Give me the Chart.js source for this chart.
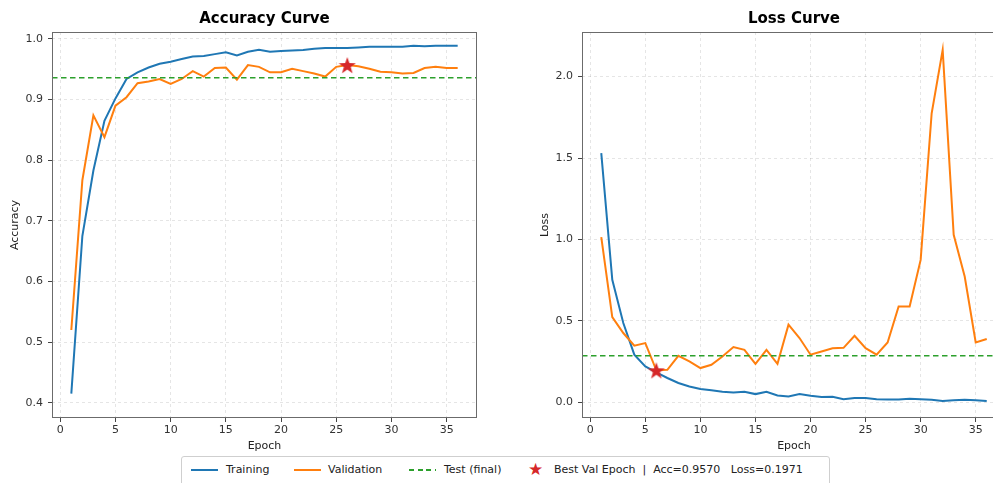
<!DOCTYPE html>
<html>
<head>
<meta charset="utf-8">
<script src="https://cdn.jsdelivr.net/npm/chart.js@4.4.1/dist/chart.umd.min.js"></script>
<style>
html, body { margin: 0; padding: 0; overflow: hidden; background: #fff; width: 993px; height: 483px; }
body { position: relative; font-family: "DejaVu Sans", sans-serif; }
#acc-chart { position: absolute; left: 0; top: 0; }
#loss-chart { position: absolute; left: 530px; top: 0; }
.legend { position: absolute; left: 181px; top: 456px; width: 649px; height: 34px; border: 1px solid #cfcfcf; border-radius: 3px; box-sizing: border-box; background: #fff; }
.legend span { position: absolute; top: 6px; font-size: 11px; line-height: 14px; color: #222; white-space: pre; }
.legend .sw { position: absolute; top: 12px; width: 27px; height: 2px; }
.legend .star { top: 3px; font-size: 17px; line-height: 18px; color: #d62728; }
</style>
</head>
<body>
<canvas id="acc-chart" width="529" height="458"></canvas>
<canvas id="loss-chart" width="528" height="458"></canvas>

<div class="legend">
  <div class="sw" style="left:9px; background:#1f77b4;"></div>
  <span style="left:44px;">Training</span>
  <div class="sw" style="left:112px; background:#ff7f0e;"></div>
  <span style="left:146px;">Validation</span>
  <div class="sw" style="left:227px; height:1.5px; background:repeating-linear-gradient(to right, #2ca02c 0 5px, transparent 5px 8.5px);"></div>
  <span style="left:262px;">Test (final)</span>
  <span class="star" style="left:346px;">★</span>
  <span style="left:372px;">Best Val Epoch  |  Acc=0.9570   Loss=0.1971</span>
</div>

<script>
// ---------------- data ----------------
const epochs = [1, 2, 3, 4, 5, 6, 7, 8, 9, 10, 11, 12, 13, 14, 15, 16, 17, 18,
                19, 20, 21, 22, 23, 24, 25, 26, 27, 28, 29, 30, 31, 32, 33, 34, 35, 36];

const trainAcc = [0.415, 0.675, 0.783, 0.865, 0.902, 0.934, 0.945, 0.953, 0.959, 0.9625, 0.967, 0.971,
                  0.972, 0.975, 0.978, 0.973, 0.979, 0.982, 0.979, 0.980, 0.981, 0.982, 0.984, 0.985,
                  0.985, 0.985, 0.986, 0.987, 0.987, 0.987, 0.987, 0.989, 0.988, 0.989, 0.989, 0.989];
const valAcc = [0.52, 0.767, 0.874, 0.838, 0.89, 0.904, 0.927, 0.930, 0.934, 0.926, 0.934, 0.947,
                0.938, 0.952, 0.953, 0.933, 0.957, 0.954, 0.945, 0.945, 0.951, 0.947, 0.943, 0.938,
                0.954, 0.957, 0.955, 0.951, 0.946, 0.945, 0.943, 0.944, 0.952, 0.954, 0.952, 0.952];

const trainLoss = [1.53, 0.753, 0.487, 0.293, 0.221, 0.185, 0.15, 0.119, 0.098, 0.082, 0.074, 0.065,
                   0.061, 0.065, 0.051, 0.065, 0.043, 0.037, 0.051, 0.041, 0.033, 0.035, 0.020, 0.027,
                   0.027, 0.020, 0.018, 0.018, 0.022, 0.020, 0.016, 0.008, 0.014, 0.016, 0.014, 0.008];
const valLoss = [1.015, 0.524, 0.426, 0.348, 0.364, 0.197, 0.20, 0.286, 0.252, 0.211, 0.231, 0.282,
                 0.34, 0.323, 0.237, 0.323, 0.237, 0.477, 0.395, 0.293, 0.313, 0.333, 0.335, 0.409,
                 0.333, 0.293, 0.368, 0.589, 0.589, 0.875, 1.775, 2.164, 1.029, 0.773, 0.368, 0.389];

const testAcc = 0.936;
const testLoss = 0.286;

const bestAccEpoch = 26;
const bestAcc = 0.957;
const bestLossEpoch = 6;
const bestLoss = 0.1971;

const epochTicks = [0, 5, 10, 15, 20, 25, 30, 35];
const accTicks = [0.4, 0.5, 0.6, 0.7, 0.8, 0.9, 1.0];
const lossTicks = [0.0, 0.5, 1.0, 1.5, 2.0];

// ---------------- helpers ----------------
const FONT = '"DejaVu Sans", sans-serif';
const X_MIN = -0.75, X_MAX = 37.75;

function toPoints(values) {
    return epochs.map((e, i) => ({ x: e, y: values[i] }));
}

// filled 5 point star, like matplotlib's '*' marker
function starImage(r, color) {
    const c = document.createElement('canvas');
    c.width = c.height = Math.ceil(r * 2);
    const g = c.getContext('2d');
    g.fillStyle = color;
    g.beginPath();
    for (let i = 0; i < 10; i++) {
        const rad = i % 2 ? r * 0.4 : r;
        const a = -Math.PI / 2 + i * Math.PI / 5;
        const px = r + rad * Math.cos(a), py = r + 1 + rad * Math.sin(a);
        if (i === 0) g.moveTo(px, py); else g.lineTo(px, py);
    }
    g.closePath();
    g.fill();
    return c;
}
const star = starImage(9, '#d62728');

// box around the plot area (matplotlib spines)
const frame = {
    id: 'frame',
    afterDatasetsDraw(chart) {
        const { ctx, chartArea: a } = chart;
        ctx.save();
        ctx.strokeStyle = '#6b6b6b';
        ctx.lineWidth = 1;
        ctx.strokeRect(Math.round(a.left) + 0.5, Math.round(a.top) + 0.5,
                       Math.round(a.right - a.left) - 1, Math.round(a.bottom - a.top) - 1);
        ctx.restore();
    }
};

function curveChart(canvasId, o) {
    const tickFont = { family: FONT, size: 11 };
    const gridCommon = {
        color: 'rgba(0,0,0,0.10)',
        lineWidth: 1,
        drawTicks: true,
        tickLength: 4,
        tickColor: '#444',
        tickBorderDash: []
    };

    const config = {
        type: 'line',
        data: {
            datasets: [
                {
                    label: 'Best',
                    data: [{ x: o.bestEpoch, y: o.bestValue }],
                    showLine: false,
                    pointStyle: star,
                    pointRadius: 9,
                    order: 0
                },
                {
                    label: 'Test (final)',
                    data: [{ x: X_MIN, y: o.test }, { x: X_MAX, y: o.test }],
                    borderColor: '#2ca02c',
                    borderWidth: 1.6,
                    borderDash: [5.5, 3.5],
                    pointRadius: 0,
                    order: 1
                },
                {
                    label: 'Validation',
                    data: toPoints(o.val),
                    borderColor: '#ff7f0e',
                    borderWidth: 2,
                    pointRadius: 0,
                    tension: 0,
                    order: 2
                },
                {
                    label: 'Training',
                    data: toPoints(o.train),
                    borderColor: '#1f77b4',
                    borderWidth: 2,
                    pointRadius: 0,
                    tension: 0,
                    order: 3
                }
            ]
        },
        options: {
            responsive: false,
            animation: false,
            devicePixelRatio: 1,
            layout: { padding: 0 },
            plugins: {
                legend: { display: false },
                tooltip: { enabled: false },
                title: {
                    display: true,
                    text: o.title,
                    color: '#000',
                    font: { family: FONT, size: 15, weight: 'bold' },
                    padding: { top: 10, bottom: 4 }
                }
            },
            scales: {
                x: {
                    type: 'linear',
                    min: X_MIN,
                    max: X_MAX,
                    afterBuildTicks: s => { s.ticks = epochTicks.map(v => ({ value: v })); },
                    afterFit: s => { s.height = 40; },
                    ticks: { font: tickFont, color: '#333', padding: 2, maxRotation: 0, callback: v => v },
                    grid: gridCommon,
                    border: { display: false, dash: [3, 3] },
                    title: { display: true, text: 'Epoch', color: '#222', font: { family: FONT, size: 11 }, padding: { top: 0, bottom: 5 } }
                },
                y: {
                    type: 'linear',
                    min: o.yMin,
                    max: o.yMax,
                    afterBuildTicks: s => { s.ticks = o.yTicks.map(v => ({ value: v })); },
                    afterFit: s => { s.width = 52; },
                    ticks: { font: tickFont, color: '#333', padding: 5, callback: v => v.toFixed(1) },
                    grid: gridCommon,
                    border: { display: false, dash: [3, 3] },
                    title: { display: true, text: o.yLabel, color: '#222', font: { family: FONT, size: 11 }, padding: { top: 9, bottom: 0 } }
                },
                // empty right-hand box so the title centres over the plot area
                spacer: {
                    type: 'linear',
                    position: 'right',
                    display: true,
                    min: 0,
                    max: 1,
                    afterFit: s => { s.width = 52; },
                    ticks: { display: false },
                    grid: { display: false, drawOnChartArea: false },
                    border: { display: false }
                }
            }
        },
        plugins: [frame]
    };

    return new Chart(document.getElementById(canvasId), config);
}

curveChart('acc-chart', {
    title: 'Accuracy Curve',
    yLabel: 'Accuracy',
    train: trainAcc,
    val: valAcc,
    test: testAcc,
    bestEpoch: bestAccEpoch,
    bestValue: bestAcc,
    yMin: 0.3748,
    yMax: 1.0115,
    yTicks: accTicks
});

curveChart('loss-chart', {
    title: 'Loss Curve',
    yLabel: 'Loss',
    train: trainLoss,
    val: valLoss,
    test: testLoss,
    bestEpoch: bestLossEpoch,
    bestValue: bestLoss,
    yMin: -0.0957,
    yMax: 2.274,
    yTicks: lossTicks
});
</script>
</body>
</html>
